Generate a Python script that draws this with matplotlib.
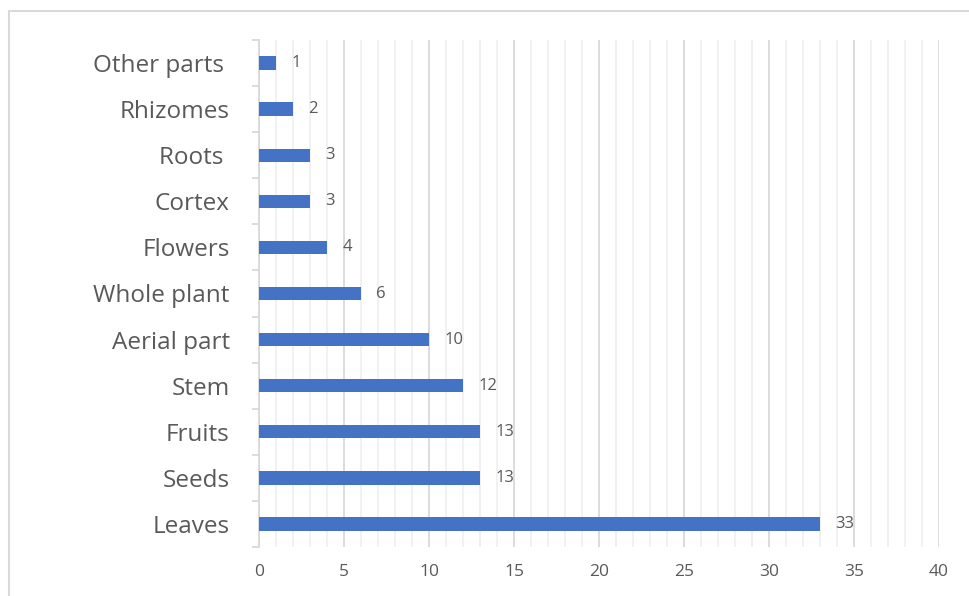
import matplotlib
matplotlib.use("Agg")
import matplotlib.pyplot as plt
from matplotlib.ticker import MultipleLocator, FixedLocator

plt.rcParams['font.family'] = ['Open Sans', 'DejaVu Sans']

categories = ["Leaves", "Seeds", "Fruits", "Stem", "Aerial part", "Whole plant",
              "Flowers", "Cortex", "Roots ", "Rhizomes", "Other parts "]
values = [33, 13, 13, 12, 10, 6, 4, 3, 3, 2, 1]
x_ticks = [0, 5, 10, 15, 20, 25, 30, 35, 40]

text_color = "#595959"
bar_color = "#4472C4"

fig = plt.figure(figsize=(9.7, 5.96), dpi=100)
ax = fig.add_axes([259 / 970, 1 - 547 / 596, 680 / 970, 507 / 596])

# light frame around the chart area
frame = plt.Rectangle((9 / 970, -0.01), 1.02, 1 - 11 / 596 + 0.01, transform=fig.transFigure,
                      fill=False, edgecolor="#d9d9d9", linewidth=1.5, zorder=0)
fig.patches.append(frame)

ypos = list(range(len(categories)))
bars = ax.barh(ypos, values, height=0.29, color=bar_color, zorder=3)

for y, v in zip(ypos, values):
    ax.annotate(f"{v}", xy=(v, y), xytext=(11, 0), textcoords="offset points",
                va="center", ha="left", fontsize=12, color=text_color)

ax.set_xlim(0, 40)
ax.set_ylim(-0.5, len(categories) - 0.5)
ax.xaxis.set_major_locator(FixedLocator(x_ticks))
ax.xaxis.set_minor_locator(MultipleLocator(1))
ax.set_xticklabels([str(t) for t in x_ticks])
ax.grid(axis="x", which="major", color="#d9d9d9", linewidth=1.3, zorder=0)
ax.grid(axis="x", which="minor", color="#f0f0f0", linewidth=1.3, zorder=0)
ax.set_axisbelow(True)

ax.set_yticks(ypos)
ax.set_yticklabels(categories)
ax.yaxis.set_minor_locator(FixedLocator([i - 0.5 for i in range(len(categories) + 1)]))
ax.tick_params(axis="y", which="major", length=0, pad=21, labelsize=17.5, labelcolor=text_color)
ax.tick_params(axis="y", which="minor", length=5, color="#d9d9d9", width=1.3)
ax.tick_params(axis="x", which="both", length=0, pad=12, labelsize=12.5, labelcolor=text_color)

for side in ("top", "right", "bottom"):
    ax.spines[side].set_visible(False)
ax.spines["left"].set_color("#d9d9d9")
ax.spines["left"].set_linewidth(1.3)

fig.savefig("out.png", dpi=100)
